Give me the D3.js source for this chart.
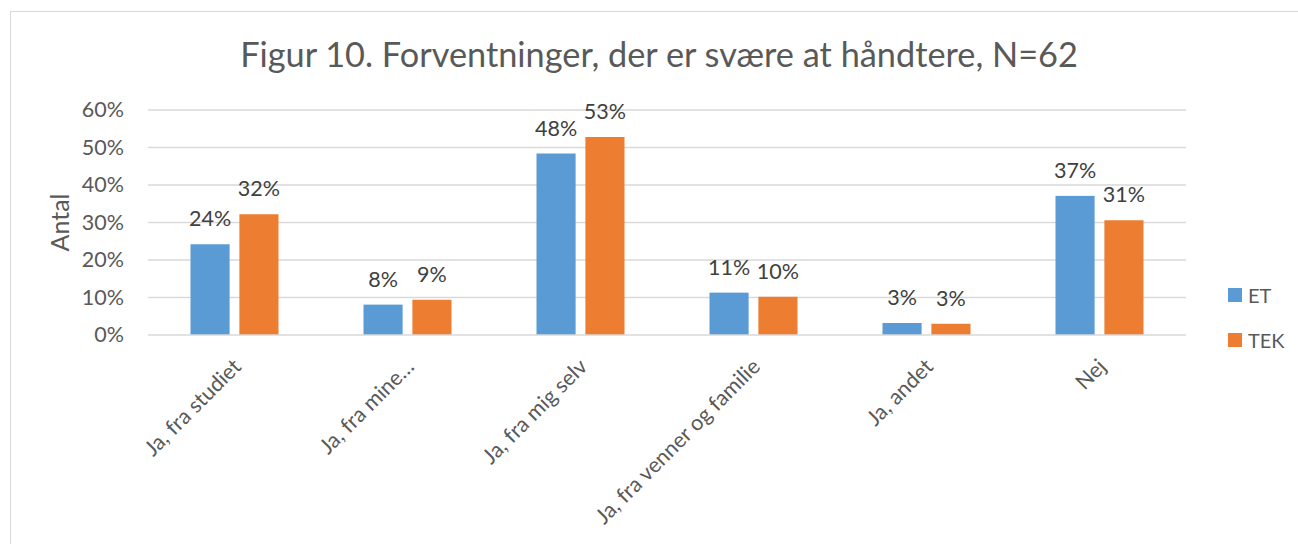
<!DOCTYPE html>
<html>
<head>
<meta charset="utf-8">
<script src="https://cdn.jsdelivr.net/npm/d3@7"></script>
<style>
  body { margin: 0; background: #fff; }
  svg { display: block; font-family: Lato, "Open Sans", sans-serif; }
</style>
</head>
<body>
<svg id="chart"></svg>
<script>
// data
const categories = ['Ja, fra studiet', 'Ja, fra mine…', 'Ja, fra mig selv', 'Ja, fra venner og familie', 'Ja, andet', 'Nej'];
const seriesNames = ['ET', 'TEK'];
const etValues = [0.242, 0.081, 0.484, 0.113, 0.032, 0.371];
const tekValues = [0.322, 0.094, 0.528, 0.102, 0.030, 0.306];
const yTicks = [0, 0.1, 0.2, 0.3, 0.4, 0.5, 0.6];
const colors = ['#5B9BD5', '#ED7D31'];

const W = 1298, H = 544;
const margin = { top: 110, right: 112, bottom: 209, left: 148 };
const width = W - margin.left - margin.right;
const height = H - margin.top - margin.bottom;

const svg = d3.select('#chart').attr('width', W).attr('height', H);

// chart frame
svg.append('rect')
  .attr('x', 10.5).attr('y', 11.5)
  .attr('width', 1400).attr('height', 700)
  .attr('fill', 'none').attr('stroke', '#D9D9D9');

// title
const title = svg.append('text')
  .attr('x', 659).attr('y', 67)
  .attr('text-anchor', 'middle')
  .attr('fill', '#595959')
  .style('font-size', '33px')
  .text('Figur 10. Forventninger, der er svære at håndtere, N=62');
const tw = title.node().getComputedTextLength();
title.style('font-size', (33 * 838 / tw) + 'px');

const g = svg.append('g').attr('transform', `translate(${margin.left},${margin.top})`);

const x0 = d3.scaleBand().domain(categories).range([0, width]).paddingInner(0).paddingOuter(0);
const x1 = d3.scaleBand().domain(seriesNames).range([x0.bandwidth() / 2 - 44, x0.bandwidth() / 2 + 44]).paddingInner(0.2);
const y = d3.scaleLinear().domain([0, 0.6]).range([height, 0]);

// gridlines
g.append('g')
  .selectAll('line')
  .data(yTicks.slice(1))
  .join('line')
  .attr('x1', 0).attr('x2', width)
  .attr('y1', d => y(d)).attr('y2', d => y(d))
  .attr('stroke', '#D9D9D9').attr('stroke-width', 1.3);

// y axis labels
const yAxis = d3.axisLeft(y).tickValues(yTicks).tickFormat(d3.format('.0%')).tickSize(0).tickPadding(24);
g.append('g').call(yAxis)
  .call(a => a.select('.domain').remove())
  .selectAll('text')
  .attr('fill', '#595959')
  .style('font-size', '21.5px')
  .style('font-family', 'Lato, sans-serif');

// bars
const rows = categories.map((c, i) => ({ cat: c, vals: [etValues[i], tekValues[i]] }));
const groups = g.selectAll('.grp')
  .data(rows)
  .join('g')
  .attr('class', 'grp')
  .attr('transform', d => `translate(${x0(d.cat)},0)`);

groups.selectAll('rect')
  .data(d => d.vals.map((v, j) => ({ name: seriesNames[j], v, j })))
  .join('rect')
  .attr('x', d => x1(d.name))
  .attr('width', x1.bandwidth())
  .attr('y', d => y(d.v))
  .attr('height', d => height - y(d.v))
  .attr('fill', d => colors[d.j]);

groups.selectAll('.lbl')
  .data(d => d.vals.map((v, j) => ({ name: seriesNames[j], v, j })))
  .join('text')
  .attr('class', 'lbl')
  .attr('x', d => x1(d.name) + x1.bandwidth() / 2)
  .attr('y', d => y(d.v) - 18)
  .attr('text-anchor', 'middle')
  .attr('fill', '#404040')
  .style('font-size', '21.5px')
  .text(d => d3.format('.0%')(d.v));

// x axis line
g.append('line')
  .attr('x1', 0).attr('x2', width)
  .attr('y1', height).attr('y2', height)
  .attr('stroke', '#D9D9D9').attr('stroke-width', 1.5);

// category labels
g.selectAll('.cat')
  .data(categories)
  .join('text')
  .attr('class', 'cat')
  .attr('text-anchor', 'end')
  .attr('transform', d => `translate(${x0(d) + x0.bandwidth() / 2 + 8},${height + 33}) rotate(-45)`)
  .attr('fill', '#595959')
  .style('font-size', '21.5px')
  .text(d => d);

// y axis title
svg.append('text')
  .attr('transform', `translate(69,${margin.top + height / 2}) rotate(-90)`)
  .attr('text-anchor', 'middle')
  .attr('fill', '#595959')
  .style('font-size', '25px')
  .text('Antal');

// legend
const legend = svg.append('g').attr('transform', 'translate(1228,288)');
seriesNames.forEach((s, i) => {
  const row = legend.append('g').attr('transform', `translate(0,${i * 45})`);
  row.append('rect').attr('width', 14).attr('height', 14).attr('fill', colors[i]);
  row.append('text').attr('x', 20).attr('y', 14.5)
    .attr('fill', '#595959').style('font-size', '20px').text(s);
});
</script>
</body>
</html>
